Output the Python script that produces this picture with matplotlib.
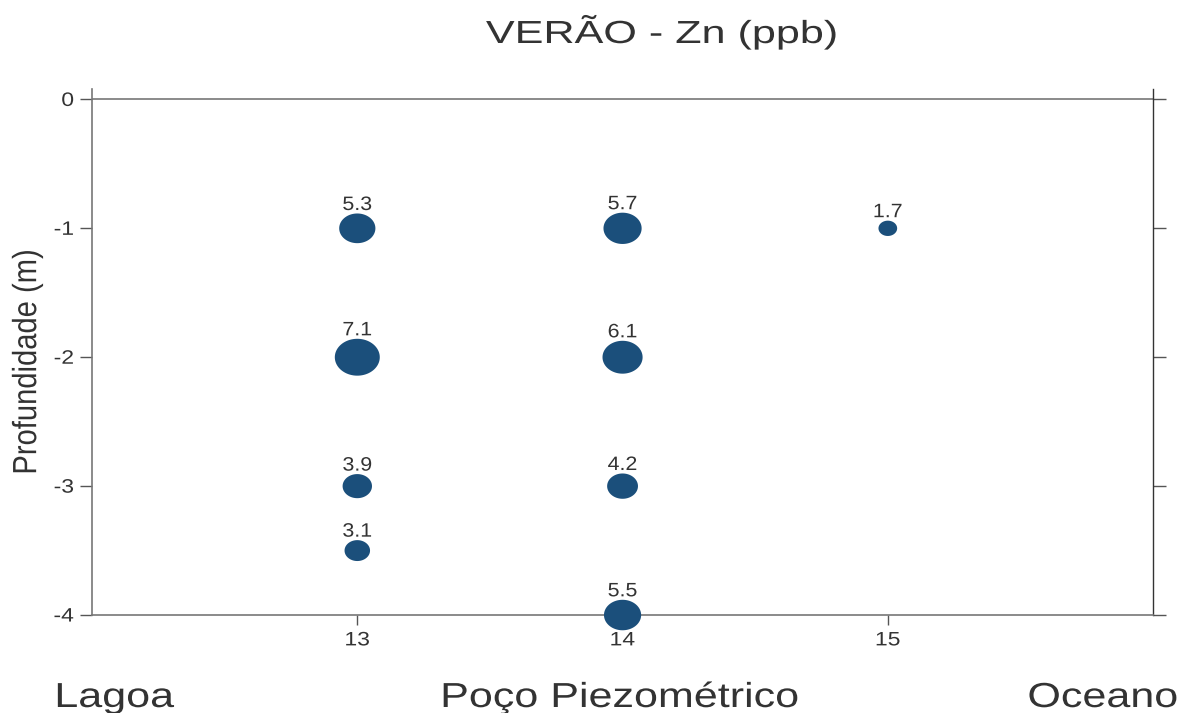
import matplotlib.pyplot as plt
import numpy as np
from matplotlib.path import Path
from matplotlib.patheffects import AbstractPathEffect
from matplotlib.transforms import Affine2D

# Poço / profundidade / Zn (ppb)
pocos = [13, 13, 13, 13, 14, 14, 14, 14, 15]
profundidade = [-1, -2, -3, -3.5, -1, -2, -3, -4, -1]
zn = [5.3, 7.1, 3.9, 3.1, 5.7, 6.1, 4.2, 5.5, 1.7]

x_ticks = [13, 14, 15]
y_ticks = [0, -1, -2, -3, -4]
locais = ['Lagoa', 'Poço Piezométrico', 'Oceano']

plt.rcParams['font.family'] = ['Liberation Sans', 'DejaVu Sans']
txt = '#333333'
bubble = '#1b4f7b'


class Stretch(AbstractPathEffect):
    # widen text (the original export is stretched sideways)
    def __init__(self, sx, anchor='center', sy=1.0):
        super().__init__()
        self.sx = sx
        self.sy = sy
        self.anchor = anchor

    def draw_path(self, renderer, gc, tpath, affine, rgbFace=None):
        ext = tpath.get_extents()
        x0 = {'left': ext.x0, 'center': (ext.x0 + ext.x1) / 2, 'right': ext.x1}[self.anchor]
        y0 = (ext.y0 + ext.y1) / 2
        t = Affine2D().translate(-x0, -y0).scale(self.sx, self.sy).translate(x0, y0)
        renderer.draw_path(gc, tpath, t + affine, rgbFace)


# elliptical marker
t = np.linspace(0, 2 * np.pi, 80)
ellipse = Path(np.column_stack([np.cos(t), 0.82 * np.sin(t)]), closed=True)

fig = plt.figure(figsize=(11.83, 7.13), dpi=100)
ax = fig.add_axes([0.0778, 0.1374, 0.8969, 0.7378])

# diameter grows linearly with concentration (px -> pt)
diam = (10.4 + 4.87 * np.array(zn)) * 0.72
ax.scatter(pocos, profundidade, s=diam ** 2, marker=ellipse, color=bubble,
           linewidths=0, zorder=3, clip_on=False)

for x, y, v, d in zip(pocos, profundidade, zn, diam):
    ax.annotate(f'{v:.1f}', (x, y), xytext=(0, d * 0.41 + 2.5), textcoords='offset points',
                ha='center', va='baseline', fontsize=14, color=txt,
                path_effects=[Stretch(1.1)])

ax.set_xlim(12, 16)
ax.set_ylim(-4, 0.081)
ax.set_xticks(x_ticks)
ax.set_yticks(y_ticks)
ax.set_yticklabels([str(v) for v in y_ticks])

ax.spines['top'].set_visible(False)
ax.axhline(0, color='#777777', lw=1.2, zorder=1)
for side in ['left', 'bottom']:
    ax.spines[side].set_color('#777777')
    ax.spines[side].set_linewidth(1.2)
ax.spines['right'].set_color('#333333')
ax.spines['right'].set_linewidth(1.0)

ax.tick_params(axis='y', which='both', left=True, right=True, direction='out',
               length=9, width=1, colors='#555555', labelsize=14, labelcolor=txt, pad=4)
ax.tick_params(axis='x', direction='out', length=7.5, width=1, colors='#555555',
               labelsize=14, labelcolor=txt, pad=5)
for lbl in ax.get_xticklabels():
    lbl.set_path_effects([Stretch(1.18)])
for lbl in ax.get_yticklabels():
    lbl.set_path_effects([Stretch(1.18, 'right')])

fig.text(27 / 1183, 1 - 362 / 713, 'Profundidade (m)', rotation=90, ha='center', va='center',
         fontsize=21, color=txt, path_effects=[Stretch(1.0, sy=1.15)])
fig.text(662 / 1183, 1 - 43 / 713, 'VERÃO - Zn (ppb)', ha='center', va='baseline',
         fontsize=23, color=txt, path_effects=[Stretch(1.35)])

base = 1 - 707 / 713
fig.text(55 / 1183, base, locais[0], ha='left', va='baseline', fontsize=25, color=txt,
         path_effects=[Stretch(1.24, 'left')])
fig.text(620 / 1183, base, locais[1], ha='center', va='baseline', fontsize=25, color=txt,
         path_effects=[Stretch(1.24)])
fig.text(1178 / 1183, base, locais[2], ha='right', va='baseline', fontsize=25, color=txt,
         path_effects=[Stretch(1.24, 'right')])

plt.savefig('out.png', dpi=100)
